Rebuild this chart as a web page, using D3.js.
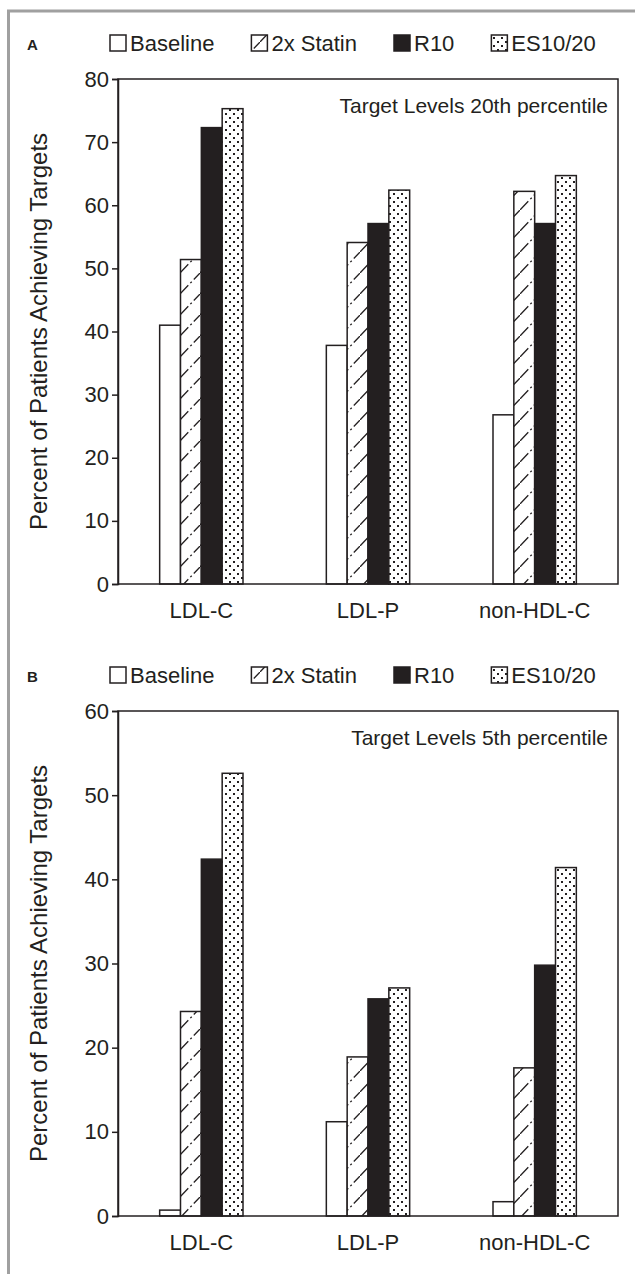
<!DOCTYPE html>
<html lang="en">
<head>
    <script src="https://d3js.org/d3.v7.min.js"></script>
    <style>
        body { margin: 0; background: #fff; }
        text { font-family: "Liberation Sans", Arial, sans-serif; fill: #231f20; }
    </style>
</head>
<body>
    <svg width="635" height="1274"></svg>
    <script>
        const categories = ["LDL-C", "LDL-P", "non-HDL-C"];
        const series = ["Baseline", "2x Statin", "R10", "ES10/20"];

        // panel A: target levels 20th percentile
        const valuesA = [
            [41.0, 37.8, 26.8],   // Baseline
            [51.4, 54.1, 62.2],   // 2x Statin
            [72.3, 57.1, 57.1],   // R10
            [75.3, 62.4, 64.7]    // ES10/20
        ];
        const ticksA = [0, 10, 20, 30, 40, 50, 60, 70, 80];

        // panel B: target levels 5th percentile
        const valuesB = [
            [0.7, 11.2, 1.7],
            [24.3, 18.9, 17.6],
            [42.4, 25.8, 29.8],
            [52.6, 27.1, 41.4]
        ];
        const ticksB = [0, 10, 20, 30, 40, 50, 60];

        const ink = "#231f20";
        const svg = d3.select("svg");
        const defs = svg.append("defs");

        const hatch = defs.append("pattern")
            .attr("id", "hatch")
            .attr("patternUnits", "userSpaceOnUse")
            .attr("width", 20).attr("height", 21);
        hatch.append("rect").attr("width", 20).attr("height", 21).attr("fill", "#fff");
        hatch.append("line")
            .attr("x1", 0).attr("y1", 21).attr("x2", 20).attr("y2", 0)
            .attr("stroke", ink).attr("stroke-width", 1.3)
            .attr("stroke-dasharray", "12,3,2,3");

        const dots = defs.append("pattern")
            .attr("id", "dots")
            .attr("patternUnits", "userSpaceOnUse")
            .attr("width", 8).attr("height", 8);
        dots.append("rect").attr("width", 8).attr("height", 8).attr("fill", "#fff");
        dots.append("rect").attr("x", 1).attr("y", 1).attr("width", 2).attr("height", 2).attr("fill", ink);
        dots.append("rect").attr("x", 5).attr("y", 5).attr("width", 2).attr("height", 2).attr("fill", ink);

        const fills = ["#fff", "url(#hatch)", ink, "url(#dots)"];

        // grey frame
        svg.append("line").attr("x1", 7).attr("x2", 635).attr("y1", 11).attr("y2", 11)
            .attr("stroke", "#a0a0a0").attr("stroke-width", 3);
        svg.append("line").attr("x1", 8.5).attr("x2", 8.5).attr("y1", 10).attr("y2", 1274)
            .attr("stroke", "#a0a0a0").attr("stroke-width", 3);

        const left = 118, right = 618;

        function panel(label, values, ticks, top, bottom, note) {
            const g = svg.append("g");
            const x = d3.scaleBand().domain(categories).range([left, right])
                .paddingInner(0.5).paddingOuter(0.25);
            const xs = d3.scaleBand().domain(series).range([0, x.bandwidth()]);
            const y = d3.scaleLinear().domain([0, d3.max(ticks)]).range([bottom, top]);

            // legend
            const legY = top - 36;
            g.append("text").attr("x", 27).attr("y", legY + 7)
                .attr("font-size", 15).attr("font-weight", "bold").text(label);
            let lx = 110;
            series.forEach((s, i) => {
                g.append("rect").attr("x", lx).attr("y", legY - 8).attr("width", 16).attr("height", 16)
                    .attr("fill", fills[i]).attr("stroke", ink).attr("stroke-width", 1.5);
                const t = g.append("text").attr("x", lx + 20).attr("y", legY + 8)
                    .attr("font-size", 22).text(s);
                lx += 20 + t.node().getComputedTextLength() + 37;
            });

            // bars
            series.forEach((s, i) => {
                g.append("g").selectAll("rect")
                    .data(values[i])
                    .join("rect")
                    .attr("x", (d, j) => x(categories[j]) + xs(s))
                    .attr("y", d => y(d))
                    .attr("width", xs.bandwidth())
                    .attr("height", d => y(0) - y(d))
                    .attr("fill", fills[i])
                    .attr("stroke", ink)
                    .attr("stroke-width", 1.5);
            });

            // frame of the plot
            g.append("rect").attr("x", left).attr("y", top)
                .attr("width", right - left).attr("height", bottom - top)
                .attr("fill", "none").attr("stroke", ink).attr("stroke-width", 1.5);

            const yAxis = g.append("g").attr("transform", `translate(${left},0)`)
                .call(d3.axisLeft(y).tickValues(ticks).tickSize(6).tickPadding(3));
            yAxis.select(".domain").attr("stroke", ink).attr("stroke-width", 1.5);
            yAxis.selectAll(".tick line").attr("stroke", ink).attr("stroke-width", 1.5);
            yAxis.selectAll(".tick text").attr("font-size", 22).attr("font-family", null).attr("fill", ink);

            const xAxis = g.append("g").attr("transform", `translate(0,${bottom})`)
                .call(d3.axisBottom(x).tickSize(0).tickPadding(18));
            xAxis.select(".domain").remove();
            xAxis.selectAll(".tick text").attr("font-size", 22).attr("font-family", null).attr("fill", ink);

            g.append("text")
                .attr("transform", `translate(47,${(top + bottom) / 2}) rotate(-90)`)
                .attr("text-anchor", "middle").attr("font-size", 24)
                .text("Percent of Patients Achieving Targets");

            g.append("text").attr("x", right - 10).attr("y", top + 34)
                .attr("text-anchor", "end").attr("font-size", 21).text(note);
        }

        panel("A", valuesA, ticksA, 79, 584, "Target Levels 20th percentile");
        panel("B", valuesB, ticksB, 711, 1216, "Target Levels 5th percentile");
    </script>
</body>
</html>
